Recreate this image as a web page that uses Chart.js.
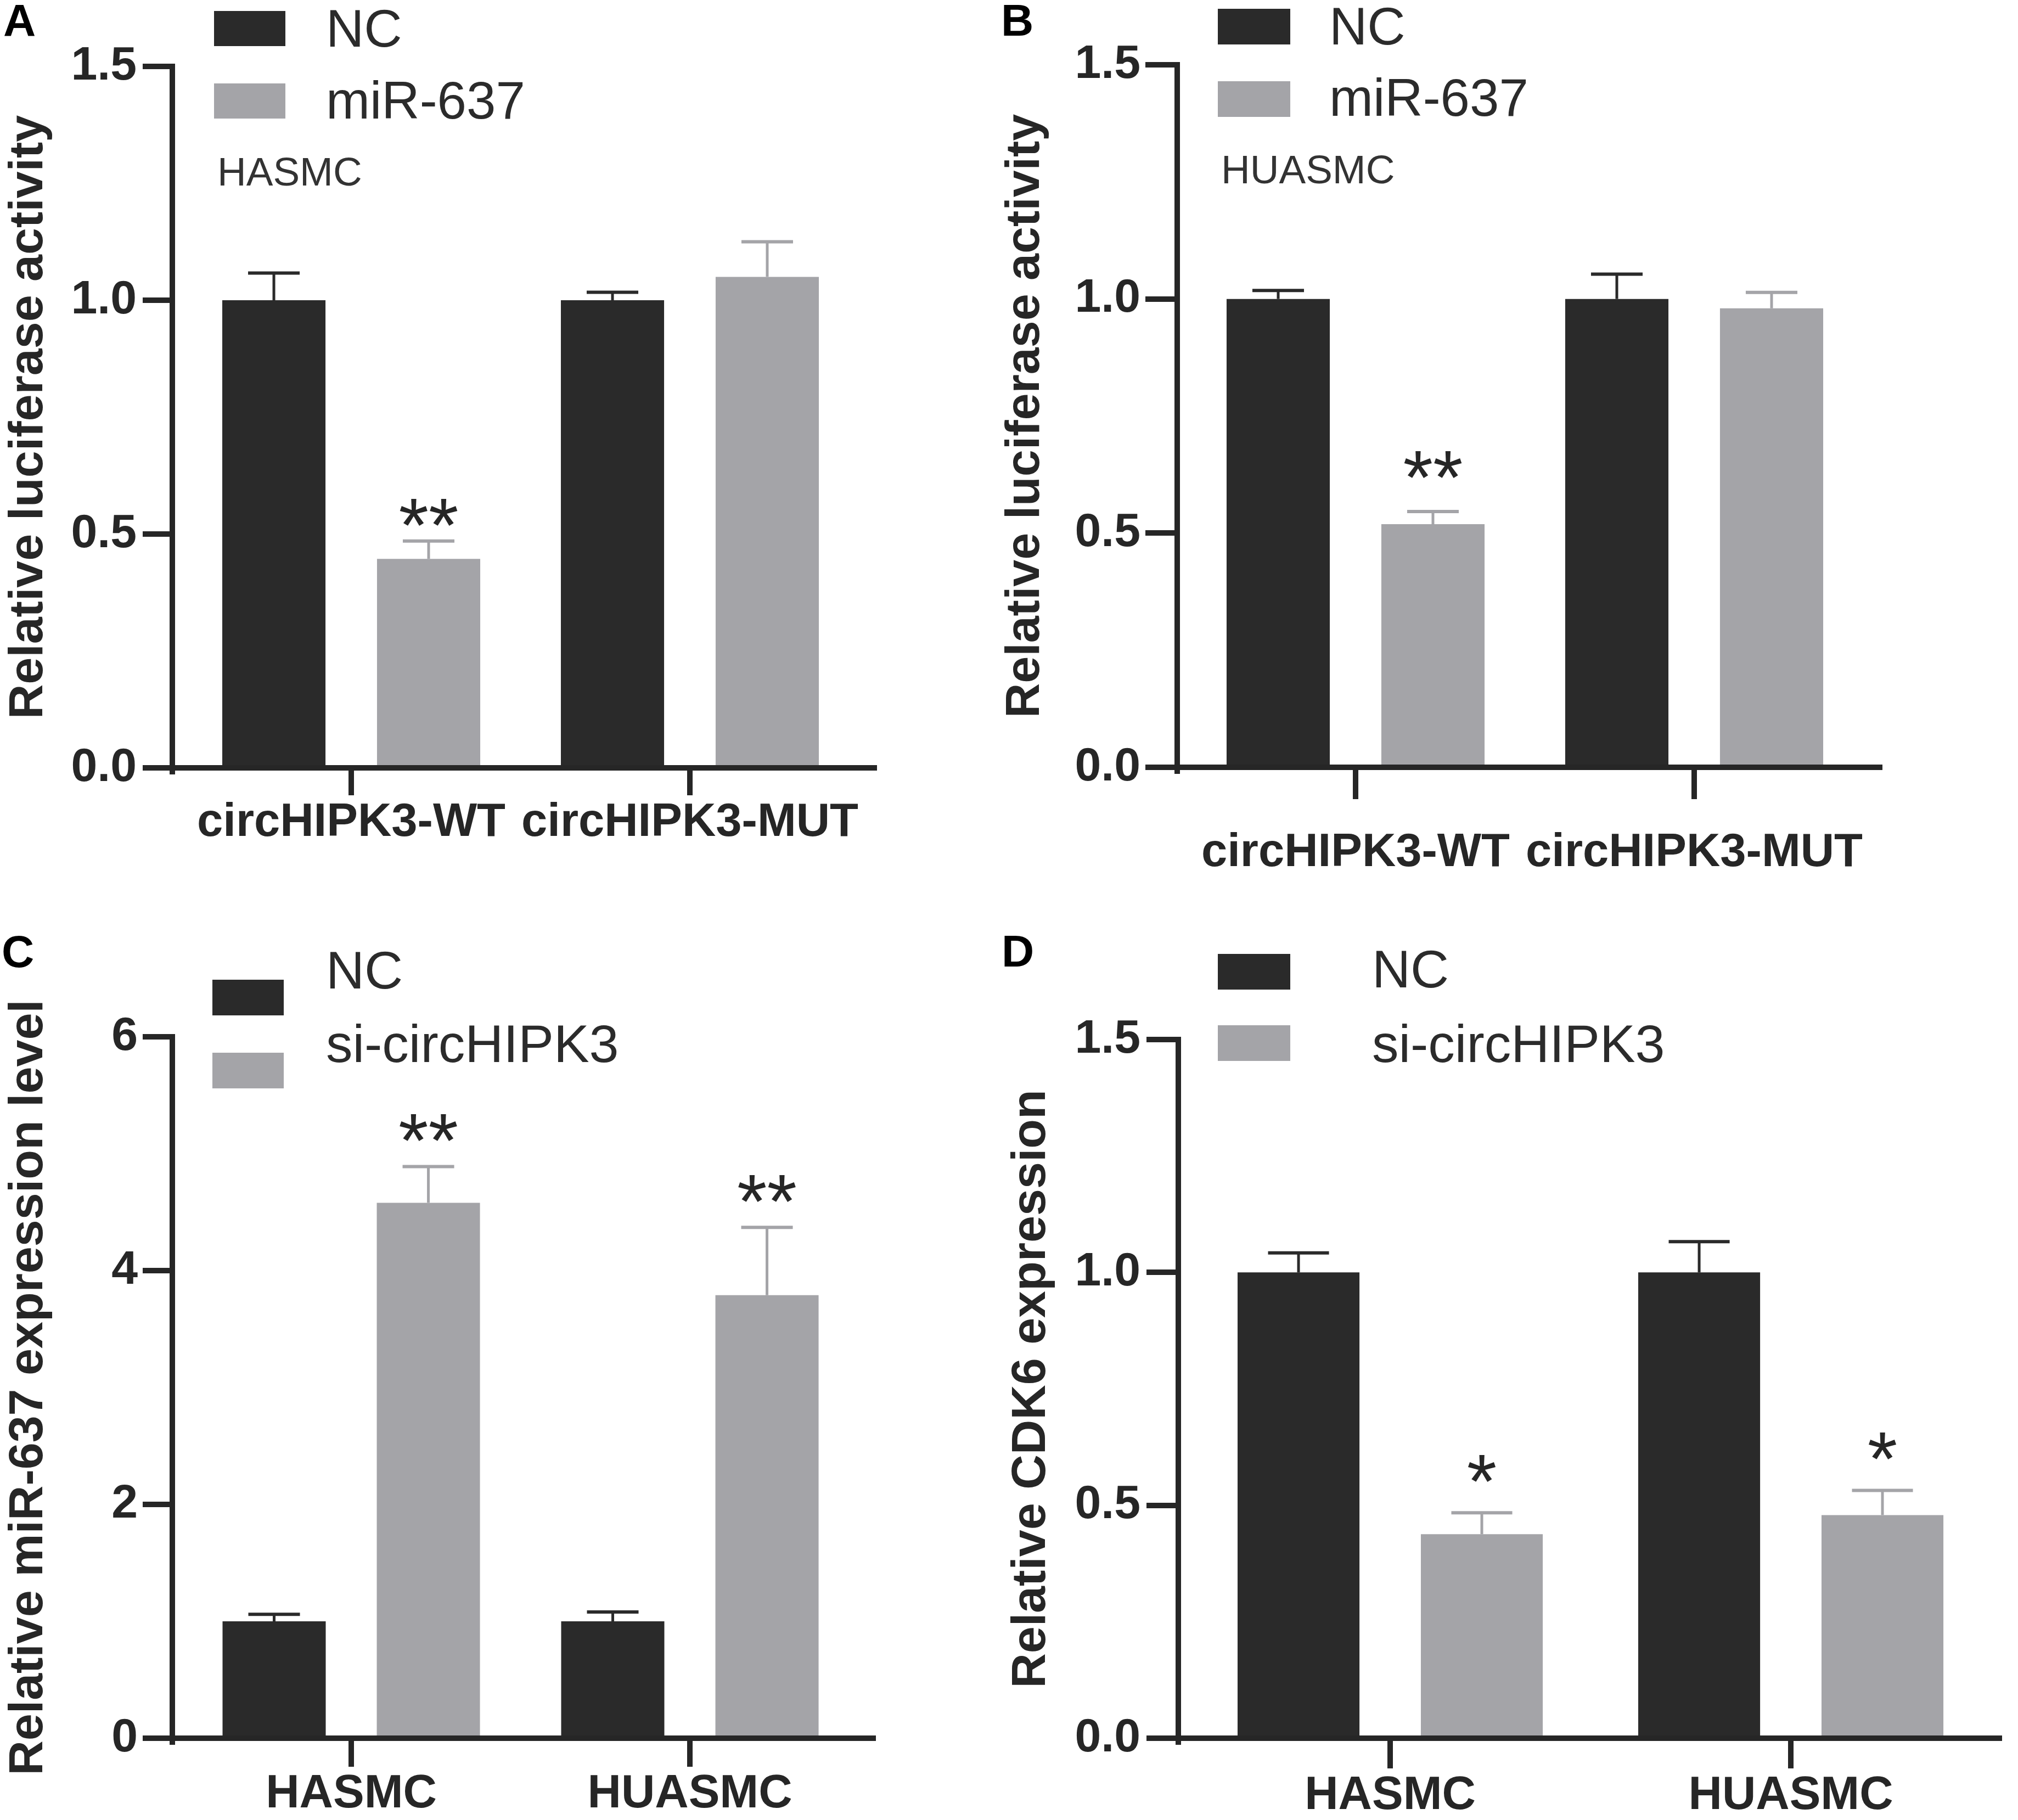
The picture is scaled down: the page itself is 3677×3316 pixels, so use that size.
<!DOCTYPE html>
<html>
<head>
<meta charset="utf-8">
<script src="https://cdn.jsdelivr.net/npm/chart.js@4.4.1/dist/chart.umd.min.js"></script>
<style>
html,body{margin:0;padding:0;background:#fff;}
#fig{position:relative;width:3677px;height:3316px;overflow:hidden;background:#fff;}
canvas{position:absolute;display:block;}
</style>
</head>
<body>
<div id="fig">
<canvas id="cA" width="1800" height="1680" style="left:0;top:0"></canvas>
<canvas id="cB" width="1877" height="1680" style="left:1800px;top:0"></canvas>
<canvas id="cC" width="1800" height="1636" style="left:0;top:1680px"></canvas>
<canvas id="cD" width="1877" height="1636" style="left:1800px;top:1680px"></canvas>
</div>
<script>
// ---------------- data ----------------
const luciferaseGroups = ['circHIPK3-WT', 'circHIPK3-MUT'];
const cellGroups = ['HASMC', 'HUASMC'];

const luciferaseTicks = [0, 0.5, 1.0, 1.5];
const mirTicks = [0, 2, 4, 6];
const cdk6Ticks = [0, 0.5, 1.0, 1.5];

// Panel A (HASMC luciferase)
const aNC = [1.00, 1.00];
const aNCsem = [0.058, 0.017];
const aMiR = [0.447, 1.050];
const aMiRsem = [0.038, 0.075];
const aStars = ['**', ''];

// Panel B (HUASMC luciferase)
const bNC = [1.00, 1.00];
const bNCsem = [0.018, 0.053];
const bMiR = [0.519, 0.980];
const bMiRsem = [0.027, 0.034];
const bStars = ['**', ''];

// Panel C (miR-637 expression)
const cNC = [1.00, 1.00];
const cNCsem = [0.06, 0.08];
const cSi = [4.58, 3.79];
const cSisem = [0.31, 0.58];
const cStars = ['**', '**'];

// Panel D (CDK6 expression)
const dNC = [1.00, 1.00];
const dNCsem = [0.042, 0.066];
const dSi = [0.438, 0.479];
const dSisem = [0.046, 0.053];
const dStars = ['*', '*'];

// ---------------- styling ----------------
const FAMILY = "'Liberation Sans', Arial, Helvetica, sans-serif";
const DARK = '#2a2a2a';
const GRAY = '#a4a4a8';
const AX = '#262626';
const STAR_SIZE = 140;
const LETTER_SIZE = 82;

const decor = {
  id: 'decor',
  afterDatasetsDraw(chart, args, o) {
    const ctx = chart.ctx;
    const ys = chart.scales.y;
    chart.data.datasets.forEach((ds, di) => {
      const meta = chart.getDatasetMeta(di);
      meta.data.forEach((bar, i) => {
        const v = o.values[di][i];
        const e = o.sems[di][i];
        const yTop = ys.getPixelForValue(v + e);
        ctx.save();
        ctx.strokeStyle = ds.backgroundColor;
        ctx.lineCap = 'butt';
        ctx.lineWidth = 5;
        ctx.beginPath();
        ctx.moveTo(bar.x, bar.y);
        ctx.lineTo(bar.x, yTop);
        ctx.stroke();
        ctx.lineWidth = 6;
        ctx.beginPath();
        ctx.moveTo(bar.x - bar.width / 4, yTop);
        ctx.lineTo(bar.x + bar.width / 4, yTop);
        ctx.stroke();
        const s = o.stars[di][i];
        if (s) {
          ctx.fillStyle = AX;
          ctx.font = STAR_SIZE + 'px ' + FAMILY;
          ctx.textAlign = 'center';
          ctx.textBaseline = 'alphabetic';
          ctx.fillText(s, bar.x, yTop - o.starGap + 0.577 * STAR_SIZE);
        }
        ctx.restore();
      });
    });
  },
  afterDraw(chart, args, o) {
    const ctx = chart.ctx;
    const ca = chart.chartArea;
    ctx.save();
    // small extension of the y axis below the x axis
    ctx.fillStyle = AX;
    ctx.fillRect(ca.left - 5, ca.bottom, 10, 12);
    // panel letter
    ctx.fillStyle = '#000';
    ctx.font = 'bold ' + LETTER_SIZE + 'px ' + FAMILY;
    ctx.textAlign = 'left';
    ctx.textBaseline = 'alphabetic';
    ctx.fillText(o.letter.text, o.letter.x, o.letter.y + 0.358 * LETTER_SIZE);
    // legend
    const lg = o.legend;
    chart.data.datasets.forEach((ds, di) => {
      const it = lg.items[di];
      ctx.fillStyle = ds.backgroundColor;
      ctx.fillRect(lg.boxX, it.boxTop, lg.boxW, lg.boxH);
      ctx.fillStyle = '#2b2b2b';
      ctx.font = lg.size + 'px ' + FAMILY;
      ctx.fillText(ds.label, lg.textX, it.textY + 0.358 * lg.size);
    });
    // cell type note
    if (o.note) {
      ctx.fillStyle = '#333';
      ctx.font = '73px ' + FAMILY;
      ctx.fillText(o.note.text, o.note.x, o.note.y + 0.358 * 73);
    }
    ctx.restore();
  }
};

function makePanel(id, p) {
  const toPoints = arr => arr.map((v, i) => ({ x: i + 1, y: v }));
  new Chart(document.getElementById(id), {
    type: 'bar',
    data: {
      datasets: [
        { label: p.names[0], data: toPoints(p.values[0]), backgroundColor: DARK, borderWidth: 0,
          categoryPercentage: p.cat, barPercentage: p.bar },
        { label: p.names[1], data: toPoints(p.values[1]), backgroundColor: GRAY, borderWidth: 0,
          categoryPercentage: p.cat, barPercentage: p.bar }
      ]
    },
    options: {
      responsive: false,
      animation: false,
      devicePixelRatio: 1,
      layout: { padding: { left: 0, top: p.top, right: p.right, bottom: 0 } },
      plugins: {
        legend: { display: false },
        tooltip: { enabled: false },
        decor: {
          values: p.values, sems: p.sems, stars: p.stars, starGap: p.starGap,
          letter: p.letter, legend: p.legend, note: p.note
        }
      },
      scales: {
        x: {
          type: 'linear',
          offset: false,
          min: p.xMin,
          max: p.xMax,
          z: 1,
          afterBuildTicks: s => { s.ticks = p.labels.map((l, i) => ({ value: i + 1 })); },
          grid: { offset: false, drawOnChartArea: false, drawTicks: true,
                  tickLength: p.xTickLen, lineWidth: 10, color: AX, tickColor: AX },
          border: { display: true, width: 10, color: AX },
          ticks: { font: { family: FAMILY, size: 85, weight: 'bold', lineHeight: 1.2 },
                   color: AX, padding: p.xPad, autoSkip: false, maxRotation: 0, minRotation: 0,
                   callback: v => p.labels[Math.round(v) - 1] },
          afterFit: s => { s.height = p.xHeight; }
        },
        y: {
          min: 0,
          max: p.ticks[p.ticks.length - 1],
          z: 1,
          afterBuildTicks: s => { s.ticks = p.ticks.map(v => ({ value: v })); },
          grid: { drawOnChartArea: false, drawTicks: true, tickLength: p.yTickLen,
                  lineWidth: 10, color: AX, tickColor: AX },
          border: { display: true, width: 10, color: AX },
          ticks: { font: { family: FAMILY, size: 86, weight: 'bold' }, color: AX,
                   padding: p.yPad, callback: v => p.fmt(v) },
          title: { display: true, text: p.title, color: AX,
                   font: { family: FAMILY, size: 88, weight: 'bold', lineHeight: 1.2 },
                   padding: { top: p.titlePad, bottom: 0 } },
          afterFit: s => { s.width = p.yWidth; }
        }
      }
    },
    plugins: [decor]
  });
}

const oneDec = v => Number(v).toFixed(1);
const intFmt = v => String(Math.round(v));

makePanel('cA', {
  labels: luciferaseGroups, names: ['NC', 'miR-637'],
  values: [aNC, aMiR], sems: [aNCsem, aMiRsem], stars: [['', ''], aStars], starGap: 62,
  ticks: luciferaseTicks, fmt: oneDec, title: 'Relative luciferase activity',
  top: 121, right: 207, yWidth: 314, xHeight: 281, xMin: 0.4716, xMax: 2.5446,
  xTickLen: 50, xPad: 0, yTickLen: 54, yPad: 11, titlePad: 0,
  cat: 0.914, bar: 0.667,
  letter: { text: 'A', x: 6, y: 36 },
  legend: { boxX: 390, boxW: 130, boxH: 64, textX: 594, size: 96,
            items: [{ boxTop: 20, textY: 51 }, { boxTop: 152, textY: 182 }] },
  note: { text: 'HASMC', x: 396, y: 312 }
});

makePanel('cB', {
  labels: luciferaseGroups, names: ['NC', 'miR-637'],
  values: [bNC, bMiR], sems: [bNCsem, bMiRsem], stars: [['', ''], bStars], starGap: 95,
  ticks: luciferaseTicks, fmt: oneDec, title: 'Relative luciferase activity',
  top: 118, right: 252, yWidth: 345, xHeight: 282, xMin: 0.4733, xMax: 2.5478,
  xTickLen: 58, xPad: 48, yTickLen: 58, yPad: 9, titlePad: 16,
  cat: 0.914, bar: 0.667,
  letter: { text: 'B', x: 24, y: 36 },
  legend: { boxX: 419, boxW: 132, boxH: 65, textX: 622, size: 96,
            items: [{ boxTop: 16, textY: 47 }, { boxTop: 148, textY: 177 }] },
  note: { text: 'HUASMC', x: 425, y: 308 }
});

makePanel('cC', {
  labels: cellGroups, names: ['NC', 'si-circHIPK3'],
  values: [cNC, cSi], sems: [cNCsem, cSisem], stars: [['', ''], cStars], starGap: 80,
  ticks: mirTicks, fmt: intFmt, title: 'Relative miR-637 expression level',
  top: 209, right: 209, yWidth: 314, xHeight: 149, xMin: 0.4716, xMax: 2.5413,
  xTickLen: 52, xPad: 0, yTickLen: 54, yPad: 9, titlePad: 0,
  cat: 0.911, bar: 0.669,
  letter: { text: 'C', x: 3, y: 53 },
  legend: { boxX: 387, boxW: 130, boxH: 65, textX: 594, size: 97,
            items: [{ boxTop: 105, textY: 86 }, { boxTop: 238, textY: 220 }] },
  note: null
});

makePanel('cD', {
  labels: cellGroups, names: ['NC', 'si-circHIPK3'],
  values: [dNC, dSi], sems: [dNCsem, dSisem], stars: [['', ''], dStars], starGap: 90,
  ticks: cdk6Ticks, fmt: oneDec, title: 'Relative CDK6 expression',
  top: 214, right: 34, yWidth: 347, xHeight: 149, xMin: 0.4712, xMax: 2.5205,
  xTickLen: 55, xPad: 0, yTickLen: 58, yPad: 11, titlePad: 27,
  cat: 0.915, bar: 0.665,
  letter: { text: 'D', x: 25, y: 52 },
  legend: { boxX: 419, boxW: 132, boxH: 65, textX: 700, size: 97,
            items: [{ boxTop: 58, textY: 84 }, { boxTop: 188, textY: 220 }] },
  note: null
});
</script>
</body>
</html>
